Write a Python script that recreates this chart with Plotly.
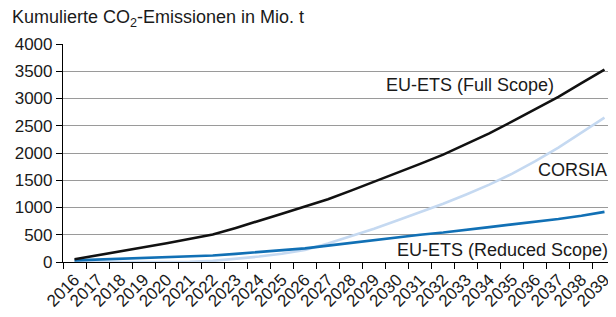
import plotly.graph_objects as go

years = [str(y) for y in range(2016, 2040)]
full_scope = [50, 120, 195, 270, 345, 420, 505, 625, 750, 885, 1020, 1150,
              1310, 1470, 1640, 1800, 1970, 2160, 2360, 2580, 2800, 3030, 3280, 3530]
corsia = [0, 0, 0, 0, 0, 5, 20, 55, 100, 150, 220, 340,
          470, 610, 760, 910, 1070, 1240, 1420, 1620, 1850, 2100, 2370, 2650]
reduced_scope = [30, 45, 60, 70, 80, 95, 120, 150, 180, 215, 250, 300,
                 350, 400, 460, 500, 540, 585, 640, 690, 735, 790, 850, 920]
y_ticks = [0, 500, 1000, 1500, 2000, 2500, 3000, 3500, 4000]

FONT = "Liberation Sans, Arial, sans-serif"

# The page body has an 8px default margin, so the figure is sized/placed to compensate.
W, H = 608, 309

fig = go.Figure()
fig.add_trace(go.Scatter(x=years, y=corsia, mode="lines",
                         line=dict(color="#c5d9f1", width=2.6), name="CORSIA"))
fig.add_trace(go.Scatter(x=years, y=reduced_scope, mode="lines",
                         line=dict(color="#1170b5", width=2.6), name="EU-ETS (Reduced Scope)"))
fig.add_trace(go.Scatter(x=years, y=full_scope, mode="lines",
                         line=dict(color="#111111", width=2.6), name="EU-ETS (Full Scope)"))

fig.update_layout(
    width=W, height=H,
    margin=dict(l=55, r=0, t=36, b=54.5, autoexpand=False),
    paper_bgcolor="white", plot_bgcolor="white",
    showlegend=False,
    font=dict(family=FONT, size=17, color="#1a1a1a"),
    title=dict(text="Kumulierte CO<sub>2</sub>-Emissionen in Mio. t",
               xref="container", yref="container", x=4/W, y=1-9/H,
               xanchor="left", yanchor="middle",
               font=dict(family=FONT, size=18, color="#1a1a1a")),
)

fig.update_xaxes(type="category", range=[-0.5, 23.5], tickangle=-45,
                 tickson="boundaries", ticks="outside", ticklen=6, tickcolor="black",
                 showline=True, linecolor="black", linewidth=1.2,
                 showgrid=False, tickfont=dict(size=17))
fig.update_yaxes(range=[0, 4000], tickvals=y_ticks, ticks="outside", ticklen=6,
                 tickcolor="black", showline=True, linecolor="black", linewidth=1.2,
                 showgrid=True, gridcolor="#9a9a9a", gridwidth=1, zeroline=False,
                 tickfont=dict(size=17))

annots = [
    ("EU-ETS (Full Scope)", (556-63)/553, (262.5-85)/218.5),
    ("CORSIA", (609-63)/553, (262.5-170)/218.5),
    ("EU-ETS (Reduced Scope)", (610-63)/553, (262.5-250.5)/218.5),
]
for text, x, y in annots:
    fig.add_annotation(text=text, xref="paper", yref="paper", x=x, y=y,
                       xanchor="right", yanchor="middle", showarrow=False,
                       font=dict(family=FONT, size=18, color="#1a1a1a"))

fig.write_html("out.html")
